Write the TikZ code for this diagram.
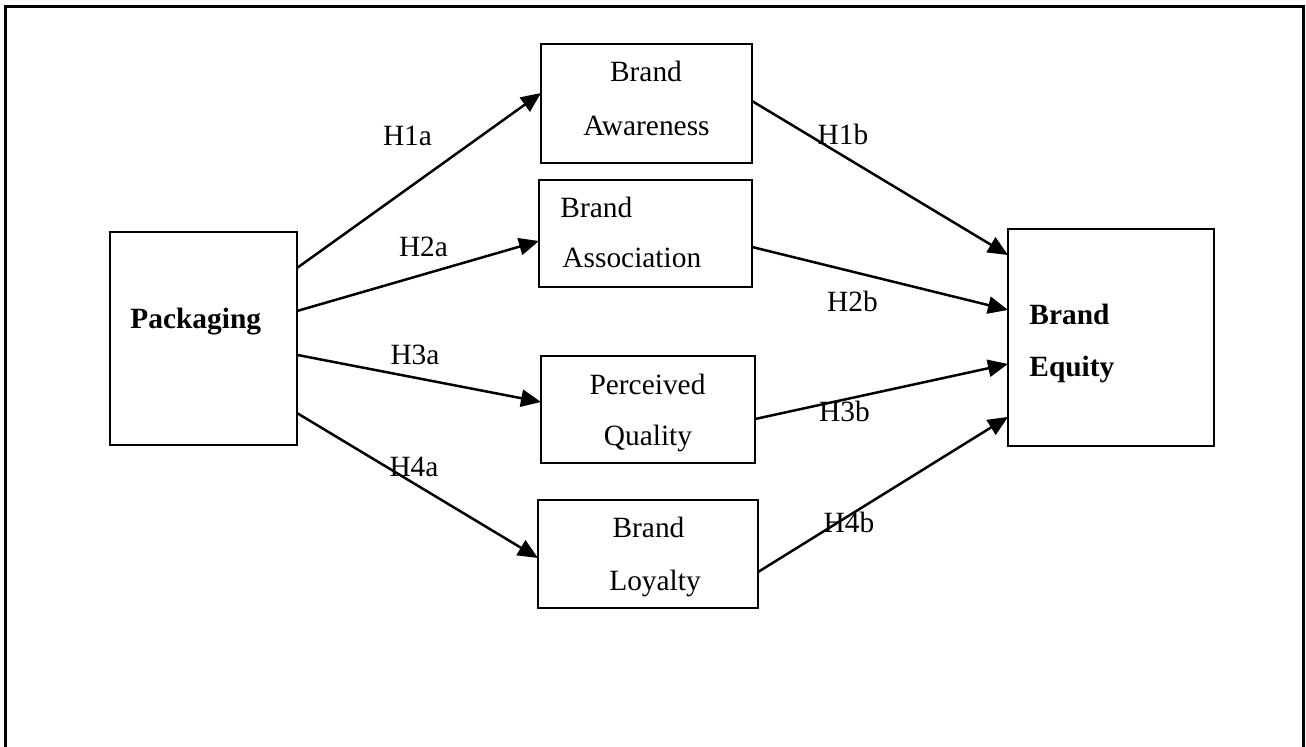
\documentclass[tikz,border=0pt]{standalone}
\usepackage{fontspec}
\setmainfont{Liberation Serif}
\usetikzlibrary{arrows.meta,calc,fit}
\begin{document}
\begin{tikzpicture}[x=0.5pt,y=-0.5pt,
  box/.style={draw, line width=1pt, inner sep=0pt, outer sep=0pt},
  txt/.style={anchor=base, inner sep=0pt, font=\fontsize{14.7pt}{17pt}\selectfont},
  txtl/.style={txt, anchor=base west},
  boldtxt/.style={txtl, font=\fontsize{14.7pt}{17pt}\selectfont\bfseries},
  arr/.style={line width=1.25pt, -{Triangle[length=10pt,width=8.6pt]}},
]
\useasboundingbox (0,0) rectangle (1306,747);

% outer frame, open at the bottom edge of the page
\begin{scope}
  \clip (0,0) rectangle (1306,747);
  \draw[line width=1.5pt] (5,7) rectangle (1303.5,800);
\end{scope}

% construct boxes
\node[box, fit={(110,232) (297,445)}] (pack) {};
\node[box, fit={(541,44) (752,163)}] (aware) {};
\node[box, fit={(539,180) (752,287)}] (assoc) {};
\node[box, fit={(541,356) (755,463)}] (qual) {};
\node[box, fit={(538,500) (758,608)}] (loyal) {};
\node[box, fit={(1008,229) (1214,446)}] (equity) {};

% box texts
\node[boldtxt] (t-pack) at (130,329) {Packaging};
\node[txt] (t-aw1) at (646,81.5) {Brand};
\node[txt] (t-aw2) at (646.5,136) {Awareness};
\node[txtl] (t-as1) at (560,217.5) {Brand};
\node[txtl] (t-as2) at (562,267.5) {Association};
\node[txt] (t-pq1) at (647.5,394.5) {Perceived};
\node[txt] (t-pq2) at (648,446) {Quality};
\node[txt] (t-bl1) at (648.5,537.5) {Brand};
\node[txt] (t-bl2) at (655,591) {Loyalty};
\node[boldtxt] (t-be1) at (1029,324.5) {Brand};
\node[boldtxt] (t-be2) at (1029,376.5) {Equity};

% hypothesised paths: packaging -> dimensions
\draw[arr] ($(pack.north east)!0.169!(pack.south east)$) -- ($(aware.north west)!0.412!(aware.south west)$);
\draw[arr] ($(pack.north east)!0.371!(pack.south east)$) -- ($(assoc.north west)!0.57!(assoc.south west)$);
\draw[arr] ($(pack.north east)!0.577!(pack.south east)$) -- ($(qual.north west)!0.43!(qual.south west)$);
\draw[arr] ($(pack.north east)!0.85!(pack.south east)$) -- ($(loyal.north west)!0.537!(loyal.south west)$);

% dimensions -> brand equity
\draw[arr] ($(aware.north east)!0.479!(aware.south east)$) -- ($(equity.north west)!0.12!(equity.south west)$);
\draw[arr] ($(assoc.north east)!0.626!(assoc.south east)$) -- ($(equity.north west)!0.373!(equity.south west)$);
\draw[arr] ($(qual.north east)!0.589!(qual.south east)$) -- ($(equity.north west)!0.622!(equity.south west)$);
\draw[arr] ($(loyal.north east)!0.667!(loyal.south east)$) -- ($(equity.north west)!0.866!(equity.south west)$);

% hypothesis labels
\node[txt] (h1a) at (407.5,145.5) {H1a};
\node[txt] (h2a) at (423.5,256.5) {H2a};
\node[txt] (h3a) at (415,364.5) {H3a};
\node[txt] (h4a) at (414,476.5) {H4a};
\node[txt] (h1b) at (843,144.5) {H1b};
\node[txt] (h2b) at (852.5,311.5) {H2b};
\node[txt] (h3b) at (844.5,421.5) {H3b};
\node[txt] (h4b) at (849,532.5) {H4b};
\end{tikzpicture}
\end{document}
